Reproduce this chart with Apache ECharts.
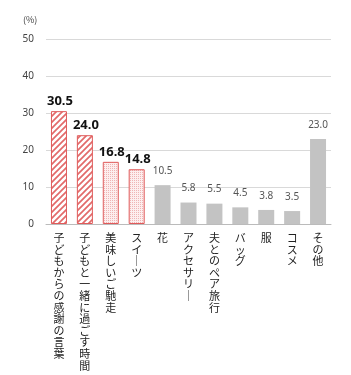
<!DOCTYPE html>
<html>
<head>
<meta charset="utf-8">
<script src="https://cdn.jsdelivr.net/npm/echarts@6/dist/echarts.min.js"></script>
<style>
html, body { margin: 0; padding: 0; background: #fff; }
#main { width: 351px; height: 375px; }
</style>
</head>
<body>
<div id="main"></div>
<script>
var categories = ['子どもからの感謝の言葉', '子どもと一緒に過ごす時間', '美味しいご馳走', 'スイーツ', '花', 'アクセサリー', '夫とのペア旅行', 'バッグ', '服', 'コスメ', 'その他'];
var values = [30.5, 24.0, 16.8, 14.8, 10.5, 5.8, 5.5, 4.5, 3.8, 3.5, 23.0];
// 0 = stripes, 1 = dotted, 2 = plain grey
var styleKind = [0, 0, 1, 1, 2, 2, 2, 2, 2, 2, 2];
var yTicks = [0, 10, 20, 30, 40, 50];

function stripeCanvas() {
    var c = document.createElement('canvas');
    c.width = 6; c.height = 6;
    var ctx = c.getContext('2d');
    ctx.fillStyle = '#fff';
    ctx.fillRect(0, 0, 6, 6);
    ctx.strokeStyle = '#e26a6a';
    ctx.lineWidth = 1.7;
    ctx.beginPath();
    ctx.moveTo(0, 6); ctx.lineTo(6, 0);
    ctx.moveTo(-3, 3); ctx.lineTo(3, -3);
    ctx.moveTo(3, 9); ctx.lineTo(9, 3);
    ctx.stroke();
    return c;
}
function dotCanvas() {
    var c = document.createElement('canvas');
    c.width = 2; c.height = 2;
    var ctx = c.getContext('2d');
    ctx.fillStyle = '#fdeeee';
    ctx.fillRect(0, 0, 2, 2);
    ctx.fillStyle = '#efb4b4';
    ctx.fillRect(0, 0, 1, 1);
    return c;
}
var stripes = stripeCanvas();
var dots = dotCanvas();

// vertical writing: one char per line, long vowel mark turned upright
function verticalText(s) {
    return s.split('').map(function (ch) {
        return ch === 'ー' ? '｜' : ch;
    }).join('\n');
}

var chart = echarts.init(document.getElementById('main'));
var option = {
    animation: false,
    title: {
        text: '(%)',
        left: 18,
        top: 10,
        textStyle: { fontSize: 9, fontWeight: 'normal', color: '#444', fontFamily: 'Noto Sans CJK JP' }
    },
    grid: { left: 46, right: 20, top: 39, bottom: 151 },
    xAxis: {
        type: 'category',
        data: categories,
        axisTick: { show: false },
        axisLine: { lineStyle: { color: '#bbb' } },
        axisLabel: {
            interval: 0,
            margin: 8,
            verticalAlign: 'top',
            fontSize: 11,
            lineHeight: 11.6,
            color: '#222',
            fontFamily: 'Noto Sans CJK JP',
            formatter: function (v) { return verticalText(v); }
        }
    },
    yAxis: {
        type: 'value',
        min: yTicks[0],
        max: yTicks[yTicks.length - 1],
        interval: 10,
        axisLine: { show: false },
        axisTick: { show: false },
        splitLine: { lineStyle: { color: '#d9d9d9' } },
        axisLabel: { fontSize: 10, color: '#444', margin: 12, fontFamily: 'Noto Sans' }
    },
    series: [{
        type: 'bar',
        barWidth: 16,
        data: values.map(function (v, i) {
            var k = styleKind[i];
            var item = { value: v };
            if (k === 0) {
                item.itemStyle = { color: { image: stripes, repeat: 'repeat' }, borderColor: '#e05a5a', borderWidth: 1 };
                item.label = { fontSize: 13, fontWeight: 'bold', color: '#111', distance: 3, offset: [1, 0] };
            } else if (k === 1) {
                item.itemStyle = { color: { image: dots, repeat: 'repeat' }, borderColor: '#e05a5a', borderWidth: 1 };
                item.label = { fontSize: 13, fontWeight: 'bold', color: '#111', distance: 3, offset: [1, 0] };
            } else {
                item.itemStyle = { color: '#c3c3c3' };
                item.label = { fontSize: 10, color: '#555', distance: 9 };
            }
            return item;
        }),
        label: {
            show: true,
            position: 'top',
            fontFamily: 'Noto Sans',
            formatter: function (p) { return p.value.toFixed(1); }
        }
    }]
};
chart.setOption(option);
</script>
</body>
</html>
